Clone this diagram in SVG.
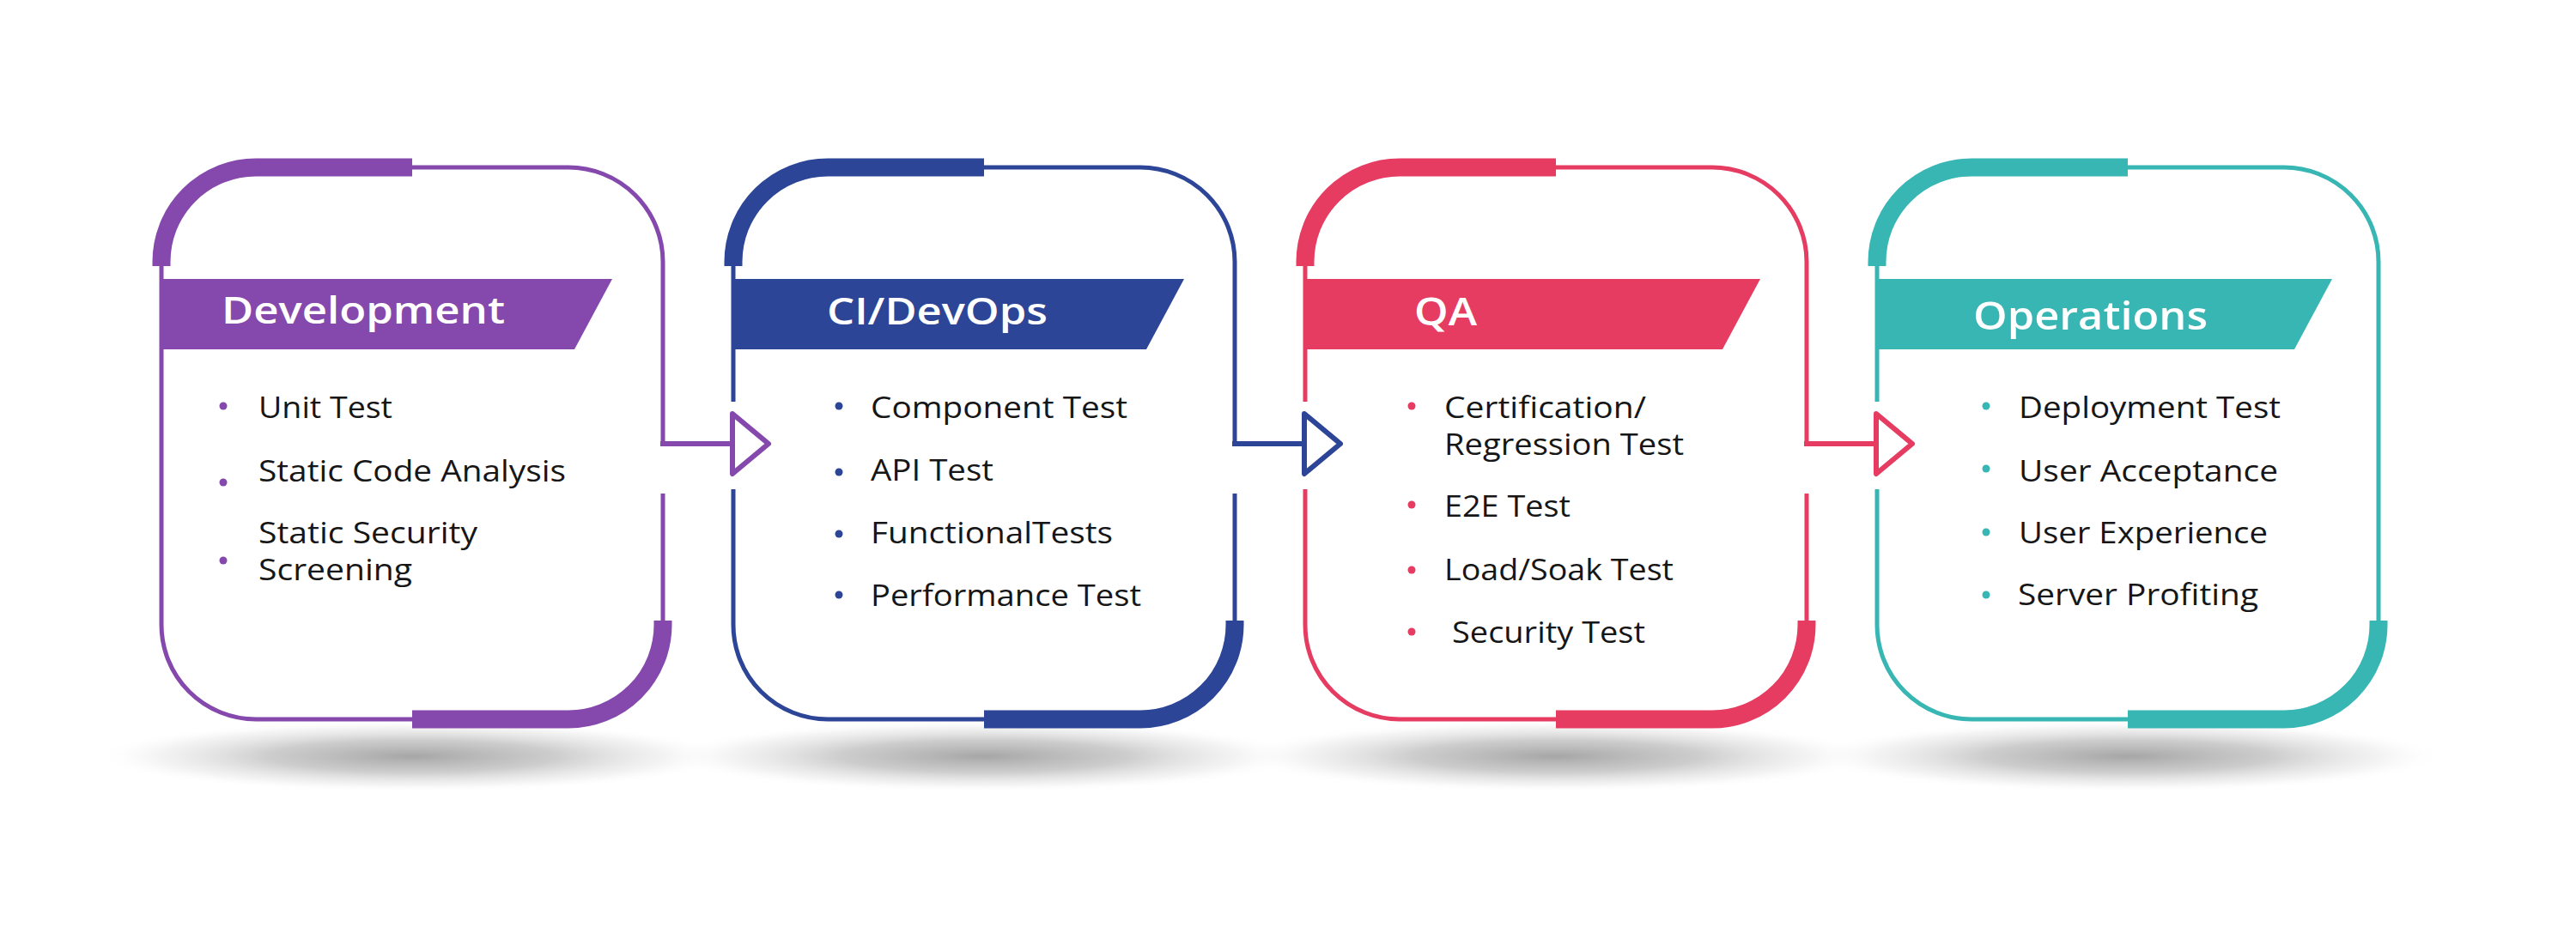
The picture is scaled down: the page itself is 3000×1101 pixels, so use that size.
<svg xmlns="http://www.w3.org/2000/svg" width="3000" height="1101" viewBox="0 0 3000 1101">
<style>
  .thin{fill:none;stroke-width:5;stroke-linecap:butt}
  .thick{fill:none;stroke-width:21;stroke-linecap:butt}
  .hdr{font-family:"Open Sans","Liberation Sans",sans-serif;font-weight:600;fill:#ffffff}
  .item{font-family:"Open Sans","Liberation Sans",sans-serif;font-weight:400;font-size:34px;fill:#161616}
  .purple{stroke:#8549AD}.purple-f{fill:#8549AD}
  .blue{stroke:#2D4597}.blue-f{fill:#2D4597}
  .red{stroke:#E63C62}.red-f{fill:#E63C62}
  .teal{stroke:#37B6B4}.teal-f{fill:#37B6B4}
  .conn{fill:none;stroke-width:6;stroke-linecap:square}
  .tri{fill:#ffffff;stroke-width:6;stroke-linejoin:round}
</style>
<defs>
  <radialGradient id="shadow" cx="0.5" cy="0.5" r="0.5">
    <stop offset="0" stop-color="#a6a6a6" stop-opacity="1"/>
    <stop offset="0.45" stop-color="#c4c4c4" stop-opacity="0.85"/>
    <stop offset="0.8" stop-color="#e8e8e8" stop-opacity="0.5"/>
    <stop offset="1" stop-color="#ffffff" stop-opacity="0"/>
  </radialGradient>
</defs>
<rect x="0" y="0" width="3000" height="1101" fill="#ffffff"/>
<g id="shadows">
  <ellipse cx="480" cy="881" rx="370" ry="42" fill="url(#shadow)"/>
  <ellipse cx="1146" cy="881" rx="370" ry="42" fill="url(#shadow)"/>
  <ellipse cx="1812" cy="881" rx="370" ry="42" fill="url(#shadow)"/>
  <ellipse cx="2478" cy="881" rx="370" ry="42" fill="url(#shadow)"/>
</g>

<g id="node-development">
  <path class="thin purple" d="M480,195 H662 A110,110 0 0 1 772,305 V517 M772,575 V723 M480,838 H298 A110,110 0 0 1 188,728 V310"/>
  <path class="thick purple" d="M188,310 V305 A110,110 0 0 1 298,195 H480 M772,723 V728 A110,110 0 0 1 662,838 H480"/>
  <polygon class="purple-f" points="186,325 713,325 669,407 186,407"/>
  <text class="hdr" x="258" y="377" font-size="44" textLength="330" lengthAdjust="spacingAndGlyphs">Development</text>
  <g class="purple-f">
    <circle cx="260" cy="473" r="4.5"/><circle cx="260" cy="562" r="4.5"/><circle cx="260" cy="653" r="4.5"/>
  </g>
  <text class="item" x="301" y="487" textLength="156" lengthAdjust="spacingAndGlyphs">Unit Test</text>
  <text class="item" x="301" y="561" textLength="358" lengthAdjust="spacingAndGlyphs">Static Code Analysis</text>
  <text class="item" x="301" y="633" textLength="255" lengthAdjust="spacingAndGlyphs">Static Security</text>
  <text class="item" x="301" y="676" textLength="179" lengthAdjust="spacingAndGlyphs">Screening</text>
</g>

<g id="node-cidevops" transform="translate(666,0)">
  <path class="thin blue" d="M480,195 H662 A110,110 0 0 1 772,305 V517 M772,575 V723 M480,838 H298 A110,110 0 0 1 188,728 V570 M188,468 V310"/>
  <path class="thick blue" d="M188,310 V305 A110,110 0 0 1 298,195 H480 M772,723 V728 A110,110 0 0 1 662,838 H480"/>
  <polygon class="blue-f" points="186,325 713,325 669,407 186,407"/>
  <text class="hdr" x="297" y="378" font-size="43" textLength="257" lengthAdjust="spacingAndGlyphs">CI/DevOps</text>
  <g class="blue-f">
    <circle cx="311" cy="473" r="4.5"/><circle cx="311" cy="550" r="4.5"/><circle cx="311" cy="622" r="4.5"/><circle cx="311" cy="693" r="4.5"/>
  </g>
  <text class="item" x="348" y="487" textLength="299" lengthAdjust="spacingAndGlyphs">Component Test</text>
  <text class="item" x="348" y="560" textLength="143" lengthAdjust="spacingAndGlyphs">API Test</text>
  <text class="item" x="348" y="633" textLength="282" lengthAdjust="spacingAndGlyphs">FunctionalTests</text>
  <text class="item" x="348" y="706" textLength="315" lengthAdjust="spacingAndGlyphs">Performance Test</text>
</g>

<g id="node-qa" transform="translate(1332,0)">
  <path class="thin red" d="M480,195 H662 A110,110 0 0 1 772,305 V517 M772,575 V723 M480,838 H298 A110,110 0 0 1 188,728 V570 M188,468 V310"/>
  <path class="thick red" d="M188,310 V305 A110,110 0 0 1 298,195 H480 M772,723 V728 A110,110 0 0 1 662,838 H480"/>
  <polygon class="red-f" points="186,325 718,325 674,407 186,407"/>
  <text class="hdr" x="315" y="379" font-size="45" textLength="73" lengthAdjust="spacingAndGlyphs">QA</text>
  <g class="red-f">
    <circle cx="312" cy="473" r="4.5"/><circle cx="312" cy="588" r="4.5"/><circle cx="312" cy="664" r="4.5"/><circle cx="312" cy="736" r="4.5"/>
  </g>
  <text class="item" x="350" y="487" textLength="235" lengthAdjust="spacingAndGlyphs">Certification/</text>
  <text class="item" x="350" y="530" textLength="279" lengthAdjust="spacingAndGlyphs">Regression Test</text>
  <text class="item" x="350" y="602" textLength="147" lengthAdjust="spacingAndGlyphs">E2E Test</text>
  <text class="item" x="350" y="676" textLength="267" lengthAdjust="spacingAndGlyphs">Load/Soak Test</text>
  <text class="item" x="359" y="749" textLength="225" lengthAdjust="spacingAndGlyphs">Security Test</text>
</g>

<g id="node-operations" transform="translate(1998,0)">
  <path class="thin teal" d="M480,195 H662 A110,110 0 0 1 772,305 V723 M480,838 H298 A110,110 0 0 1 188,728 V570 M188,468 V310"/>
  <path class="thick teal" d="M188,310 V305 A110,110 0 0 1 298,195 H480 M772,723 V728 A110,110 0 0 1 662,838 H480"/>
  <polygon class="teal-f" points="186,325 718,325 674,407 186,407"/>
  <text class="hdr" x="300" y="384" font-size="46" textLength="273" lengthAdjust="spacingAndGlyphs">Operations</text>
  <g class="teal-f">
    <circle cx="315" cy="473" r="4.5"/><circle cx="315" cy="546" r="4.5"/><circle cx="315" cy="620" r="4.5"/><circle cx="315" cy="693" r="4.5"/>
  </g>
  <text class="item" x="353" y="487" textLength="305" lengthAdjust="spacingAndGlyphs">Deployment Test</text>
  <text class="item" x="353" y="561" textLength="302" lengthAdjust="spacingAndGlyphs">User Acceptance</text>
  <text class="item" x="353" y="633" textLength="290" lengthAdjust="spacingAndGlyphs">User Experience</text>
  <text class="item" x="352" y="705" textLength="280" lengthAdjust="spacingAndGlyphs">Server Profiting</text>
</g>

<g id="connectors">
  <path class="conn purple" d="M772,517 H853"/>
  <polygon class="tri purple" points="853,482 895,517 853,552"/>
  <path class="conn blue" d="M1438,517 H1519"/>
  <polygon class="tri blue" points="1519,482 1561,517 1519,552"/>
  <path class="conn red" d="M2104,517 H2185"/>
  <polygon class="tri red" points="2185,482 2227,517 2185,552"/>
</g>
</svg>
